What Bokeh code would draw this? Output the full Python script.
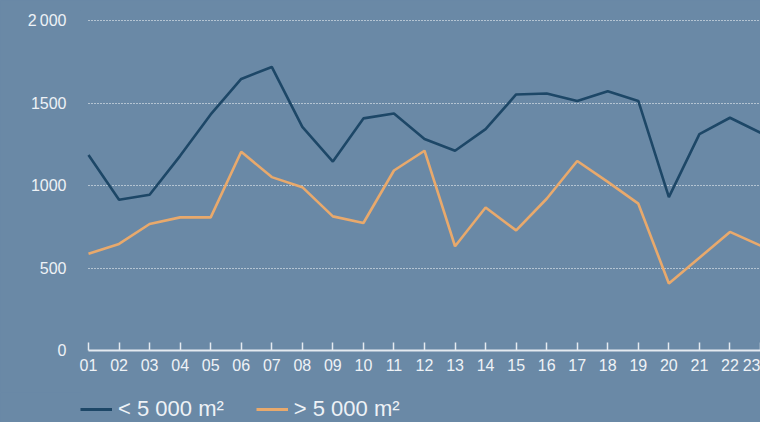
from bokeh.plotting import figure
from bokeh.layouts import column
from bokeh.models import FixedTicker, Range1d, Legend, LegendItem, ColumnDataSource
from bokeh.embed import file_html
from bokeh.resources import INLINE

months = list(range(1, 24))
month_labels = ["%02d" % m for m in months]
small_units = [1185, 914, 944, 1180, 1431, 1646, 1719, 1356, 1145, 1407, 1437, 1282,
               1211, 1342, 1552, 1558, 1513, 1572, 1513, 930, 1312, 1411, 1320]
large_units = [586, 646, 767, 807, 807, 1205, 1051, 990, 813, 773, 1091, 1211,
               632, 867, 728, 920, 1149, 1022, 890, 406, 562, 719, 636]
y_ticks = [0, 500, 1000, 1500, 2000]
y_tick_labels = {2000: "2\u2009000"}
series_names = ["< 5 000 m\u00b2", "> 5 000 m\u00b2"]

BG = "#6a89a6"
DARK = "#1d4767"
ORANGE = "#e8a96c"
TXT = "#eef2f6"
FONT = "Liberation Sans"

src = ColumnDataSource(dict(x=months, a=small_units, b=large_units))

p = figure(width=760, height=392, output_backend="svg", toolbar_location=None,
           x_range=Range1d(0.738, 23), y_range=Range1d(0, 2061),
           min_border_left=80, min_border_right=0, min_border_top=10, min_border_bottom=42)
p.background_fill_color = BG
p.border_fill_color = BG
p.outline_line_color = None

p.line("x", "a", source=src, line_color=DARK, line_width=2.6)
p.line("x", "b", source=src, line_color=ORANGE, line_width=2.6)

# x axis
xa = p.xaxis[0]
xa.ticker = FixedTicker(ticks=months)
xa.bounds = (months[0], months[-1])
xa.major_label_overrides = {m: l for m, l in zip(months, month_labels)}
xa.major_tick_in = 8
xa.major_tick_out = 0
xa.minor_tick_line_color = None
xa.major_tick_line_color = "#e4eaf0"
xa.major_tick_line_width = 1.5
xa.axis_line_color = "#e4eaf0"
xa.axis_line_width = 2
xa.major_label_text_font = FONT
xa.major_label_text_font_size = "16px"
xa.major_label_text_color = TXT
xa.major_label_standoff = 8

# y axis
ya = p.yaxis[0]
ya.ticker = FixedTicker(ticks=y_ticks)
ya.major_label_overrides = y_tick_labels
ya.axis_line_color = None
ya.major_tick_line_color = None
ya.minor_tick_line_color = None
ya.major_label_text_font = FONT
ya.major_label_text_font_size = "16px"
ya.major_label_text_color = TXT
ya.major_label_standoff = 8

p.xgrid.grid_line_color = None
yg = p.ygrid[0]
yg.ticker = FixedTicker(ticks=y_ticks[1:])
yg.grid_line_color = "#ffffff"
yg.grid_line_alpha = 1.0
yg.grid_line_dash = "1 2"
yg.grid_line_width = 1.2
if "cross_bounds" in yg.properties():
    yg.cross_bounds = (months[0], months[-1])

# legend strip below the chart (series drawn out of view; only the legend shows)
lg = figure(width=760, height=30, output_backend="svg", toolbar_location=None,
            x_range=Range1d(0, 1), y_range=Range1d(-2, -1),
            x_axis_type=None, y_axis_type=None,
            min_border_left=80, min_border_right=0, min_border_top=0, min_border_bottom=0)
lg.background_fill_color = BG
lg.border_fill_color = BG
lg.outline_line_color = None
lg.xgrid.grid_line_color = None
lg.ygrid.grid_line_color = None
d1 = lg.line("x", "a", source=src, line_color=DARK, line_width=3)
d2 = lg.line("x", "b", source=src, line_color=ORANGE, line_width=3)

legend = Legend(items=[LegendItem(label=series_names[0], renderers=[d1]),
                       LegendItem(label=series_names[1], renderers=[d2])],
                location=(0, 0), orientation="horizontal")
legend.background_fill_alpha = 0
legend.border_line_color = None
legend.padding = 0
legend.margin = 0
legend.spacing = 32
legend.glyph_width = 32
legend.label_standoff = 6
legend.label_text_font = FONT
legend.label_text_font_size = "22px"
legend.label_text_color = TXT
lg.add_layout(legend, "center")

layout = column(p, lg, spacing=0)

html = file_html(layout, INLINE)
html = html.replace("<head>", "<head><style>html,body{background:%s;}</style>" % BG, 1)
open("out.html", "w").write(html)
